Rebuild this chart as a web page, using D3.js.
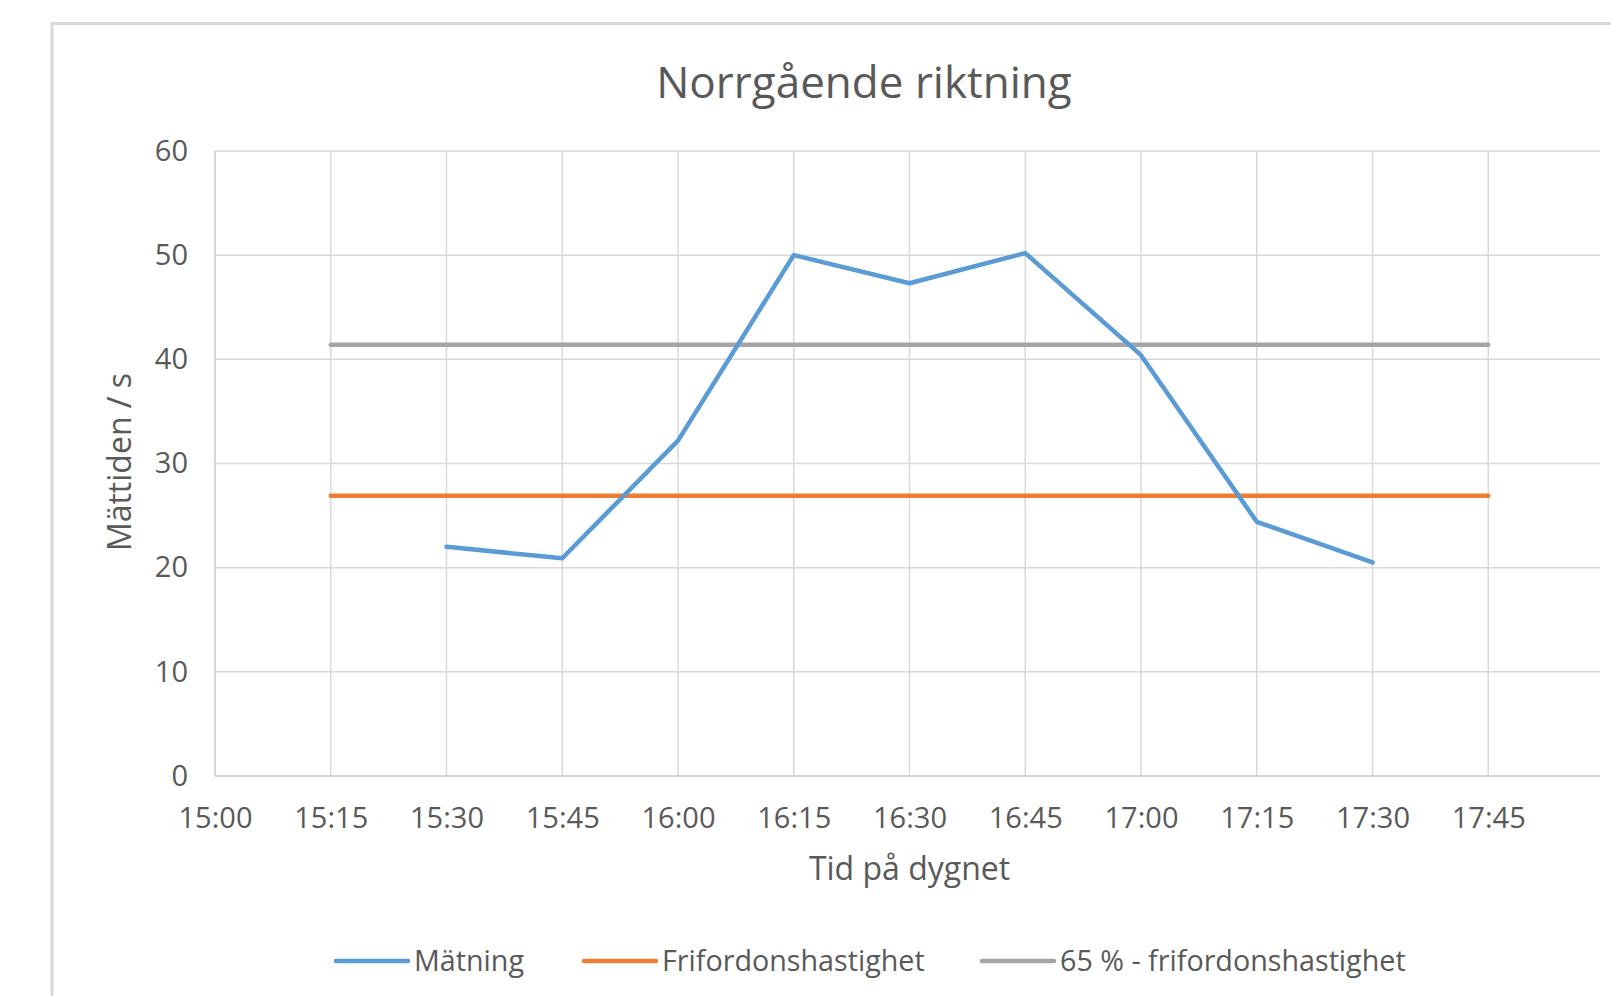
<!DOCTYPE html>
<html>
<head>
<meta charset="utf-8">
<script src="https://cdn.jsdelivr.net/npm/d3@7"></script>
<style>
  html, body { margin: 0; padding: 0; background: #fff; }
  svg { display: block; }
  text { font-family: "Open Sans", "Segoe UI", sans-serif; fill: #595959; }
</style>
</head>
<body>
<script>
// ---- Data ----
const timeLabels = ["15:00","15:15","15:30","15:45","16:00","16:15","16:30","16:45","17:00","17:15","17:30","17:45"];
const matning = [null, null, 22.0, 20.9, 32.2, 50.0, 47.3, 50.2, 40.4, 24.4, 20.5, null];
const frifordon = [null, 26.9, 26.9, 26.9, 26.9, 26.9, 26.9, 26.9, 26.9, 26.9, 26.9, 26.9];
const frifordon65 = [null, 41.4, 41.4, 41.4, 41.4, 41.4, 41.4, 41.4, 41.4, 41.4, 41.4, 41.4];
const yTicks = [0, 10, 20, 30, 40, 50, 60];
const seriesNames = ["Mätning", "Frifordonshastighet", "65 % - frifordonshastighet"];
const seriesColors = ["#5b9bd5", "#ed7d31", "#a5a5a5"];
const title = "Norrgående riktning";
const xTitle = "Tid på dygnet";
const yTitle = "Mättiden / s";

// ---- Layout ----
const W = 1611, H = 996;
const plot = { left: 215, right: 1604, top: 151, bottom: 776 };

const parse = d3.timeParse("%H:%M");
const times = timeLabels.map(parse);
const xEnd = parse("18:00");

const svg = d3.select("body").append("svg").attr("width", W).attr("height", H);

// chart frame (cropped at right and bottom in the original)
svg.append("path")
  .attr("d", `M52,${H} V23.5 H${W}`)
  .attr("fill", "none").attr("stroke", "#d9d9d9").attr("stroke-width", 3);

const x = d3.scaleTime().domain([times[0], xEnd]).range([plot.left, plot.right]);
const y = d3.scaleLinear().domain([0, 60]).range([plot.bottom, plot.top]);

svg.append("defs").append("clipPath").attr("id", "crop")
  .append("rect").attr("x", 0).attr("y", 0).attr("width", 1600).attr("height", H);

const g = svg.append("g").attr("clip-path", "url(#crop)");

// horizontal gridlines
g.append("g").selectAll("line").data(yTicks.filter(v => v > 0)).join("line")
  .attr("x1", plot.left).attr("x2", plot.right)
  .attr("y1", d => y(d)).attr("y2", d => y(d))
  .attr("stroke", "#d9d9d9").attr("stroke-width", 1.5);

// vertical gridlines
g.append("g").selectAll("line").data(times.slice(1)).join("line")
  .attr("x1", d => x(d)).attr("x2", d => x(d))
  .attr("y1", plot.top).attr("y2", plot.bottom)
  .attr("stroke", "#d9d9d9").attr("stroke-width", 1.5);

// axes lines
g.append("line").attr("x1", plot.left).attr("x2", plot.right)
  .attr("y1", y(0)).attr("y2", y(0)).attr("stroke", "#c8c8c8").attr("stroke-width", 1.5);
g.append("line").attr("x1", plot.left).attr("x2", plot.left)
  .attr("y1", plot.top).attr("y2", plot.bottom).attr("stroke", "#c8c8c8").attr("stroke-width", 1.5);

// y tick labels via axis
const yAxis = svg.append("g").attr("transform", `translate(${plot.left},0)`)
  .call(d3.axisLeft(y).tickValues(yTicks).tickSize(0).tickPadding(27).tickFormat(d3.format("d")));
yAxis.select(".domain").remove();
yAxis.selectAll("text").style("font-size", "29px").attr("fill", "#595959")
  .style("font-family", "'Open Sans', sans-serif");

// x tick labels via axis
const xAxis = svg.append("g").attr("transform", `translate(0,${plot.bottom})`)
  .call(d3.axisBottom(x).tickValues(times).tickSize(0).tickPadding(31).tickFormat(d3.timeFormat("%H:%M")));
xAxis.select(".domain").remove();
xAxis.selectAll("text").style("font-size", "29px").attr("fill", "#595959")
  .style("font-family", "'Open Sans', sans-serif");

// series
const seriesData = [matning, frifordon, frifordon65];
const line = d3.line()
  .defined(d => d.v != null)
  .x(d => x(d.t)).y(d => y(d.v));

[2, 1, 0].forEach(i => {
  const pts = times.map((t, j) => ({ t, v: seriesData[i][j] }));
  g.append("path").datum(pts)
    .attr("d", line)
    .attr("fill", "none")
    .attr("stroke", seriesColors[i])
    .attr("stroke-width", 4.5)
    .attr("stroke-linejoin", "round")
    .attr("stroke-linecap", "round");
});

// title
svg.append("text").attr("x", 864).attr("y", 98)
  .attr("text-anchor", "middle").style("font-size", "44px").text(title);

// axis titles
svg.append("text").attr("x", (plot.left + plot.right) / 2).attr("y", 880)
  .attr("text-anchor", "middle").style("font-size", "32px").text(xTitle);
svg.append("text").attr("transform", "translate(131,462) rotate(-90)")
  .attr("text-anchor", "middle").style("font-size", "32px").text(yTitle);

// legend
const legendX = [336, 584, 982];
const leg = svg.append("g").selectAll("g").data(seriesNames).join("g")
  .attr("transform", (d, i) => `translate(${legendX[i]},961)`);
leg.append("line").attr("x1", 0).attr("x2", 72).attr("y1", 0).attr("y2", 0)
  .attr("stroke", (d, i) => seriesColors[i]).attr("stroke-width", 4.5).attr("stroke-linecap", "round");
leg.append("text").attr("x", 78).attr("y", 0).attr("dy", "0.35em")
  .style("font-size", "28.7px").text(d => d);
</script>
</body>
</html>
